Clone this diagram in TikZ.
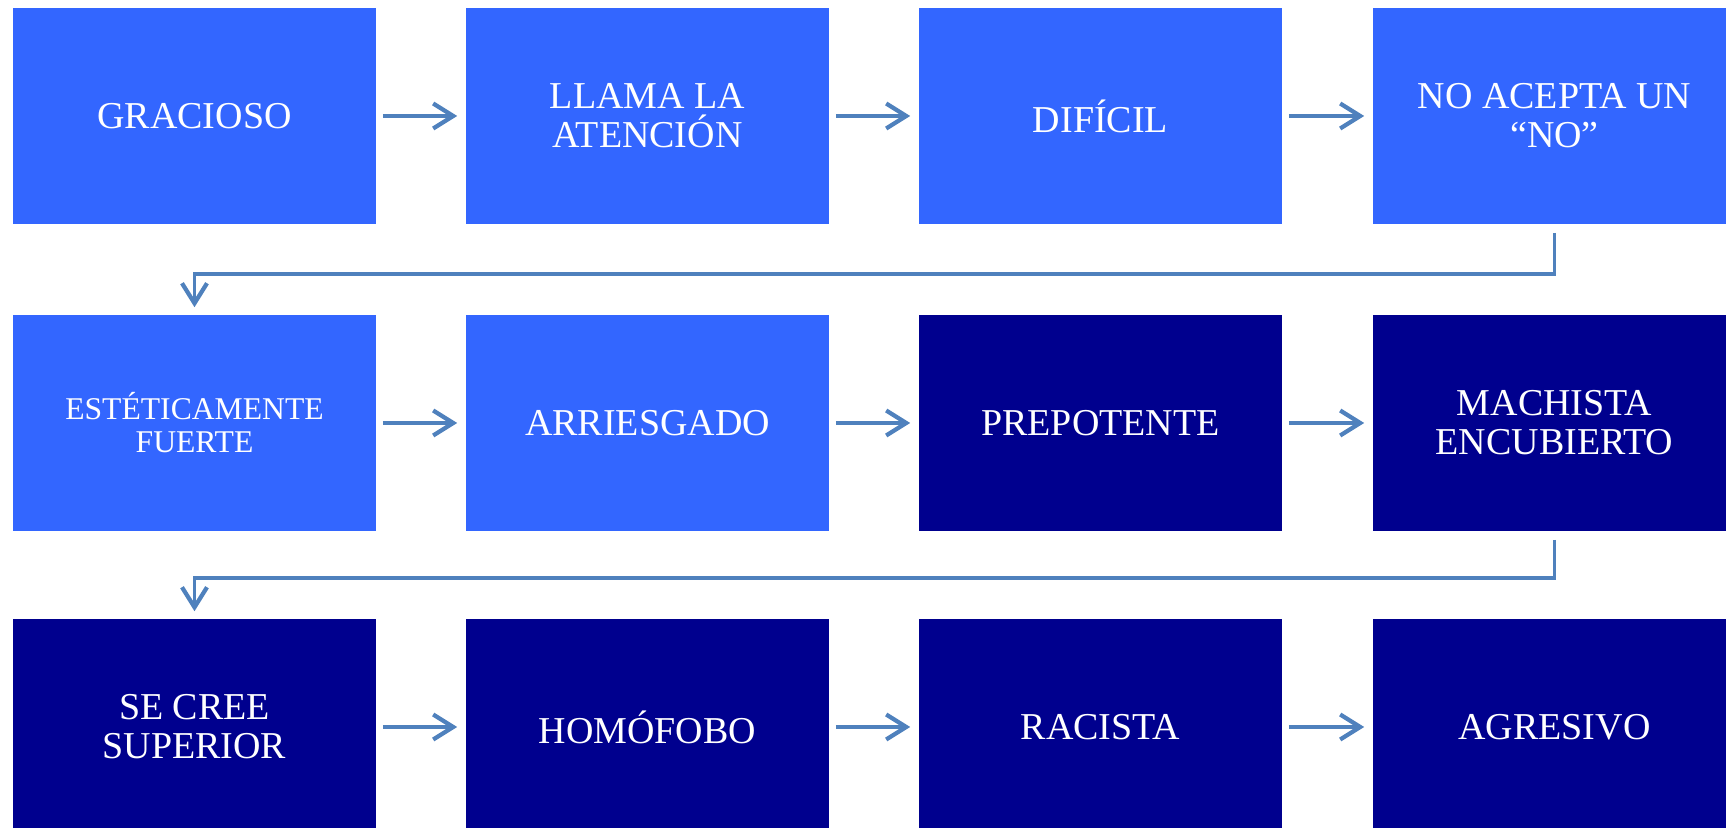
\documentclass[tikz,border=0pt]{standalone}
\usepackage{fontspec}
\setmainfont{Liberation Serif}
\usetikzlibrary{arrows.meta}
\definecolor{lightbox}{HTML}{3366FF}
\definecolor{darkbox}{HTML}{00008E}
\definecolor{arrowcol}{HTML}{4F81BD}
\begin{document}
\begin{tikzpicture}[x=0.01cm,y=-0.01cm,
  boxnode/.style={rectangle, minimum width=3.63cm, minimum height=2.16cm, inner sep=0pt,
    text=white, align=center, font=\fontsize{10.8}{11.1}\selectfont},
  lightnode/.style={boxnode, fill=lightbox},
  darknode/.style={boxnode, fill=darkbox},
  smalltext/.style={font=\fontsize{9}{9.4}\selectfont},
  arr/.style={draw=arrowcol, line width=1pt, -{Straight Barb[length=0.2cm,width=0.25cm,line width=1.2pt]}},
  harr/.style={arr, shorten <=0.06cm, shorten >=0.08cm}]
\useasboundingbox (0,0) rectangle (1726,828);
\fill[white] (0,0) rectangle (1726,828);
% row 1
\node[lightnode] (n1) at (194.5,116) {GRACIOSO};
\node[lightnode] (n2) at (647.5,116) {LLAMA LA\\ATENCIÓN};
\node[lightnode] (n3) at (1100.5,116) {DIFÍCIL};
\node[lightnode] (n4) at (1554.5,116) {NO ACEPTA UN\\“NO”};
% row 2
\node[lightnode, smalltext] (n5) at (194.5,423) {ESTÉTICAMENTE\\FUERTE};
\node[lightnode] (n6) at (647.5,423) {ARRIESGADO};
\node[darknode] (n7) at (1100.5,423) {PREPOTENTE};
\node[darknode] (n8) at (1554.5,423) {MACHISTA\\ENCUBIERTO};
% row 3
\node[darknode] (n9) at (194.5,727) {SE CREE\\SUPERIOR};
\node[darknode] (n10) at (647.5,727) {HOMÓFOBO};
\node[darknode] (n11) at (1100.5,727) {RACISTA};
\node[darknode] (n12) at (1554.5,727) {AGRESIVO};
% horizontal arrows
\draw[harr] (n1) -- (n2);
\draw[harr] (n2) -- (n3);
\draw[harr] (n3) -- (n4);
\draw[harr] (n5) -- (n6);
\draw[harr] (n6) -- (n7);
\draw[harr] (n7) -- (n8);
\draw[harr] (n9) -- (n10);
\draw[harr] (n10) -- (n11);
\draw[harr] (n11) -- (n12);
% row connectors
\draw[arr, shorten <=0.08cm, shorten >=0.07cm] (n4.south) -- ++(0,49) -| (n5.north);
\draw[arr, shorten <=0.08cm, shorten >=0.07cm] (n8.south) -- ++(0,46) -| (n9.north);
\end{tikzpicture}
\end{document}
